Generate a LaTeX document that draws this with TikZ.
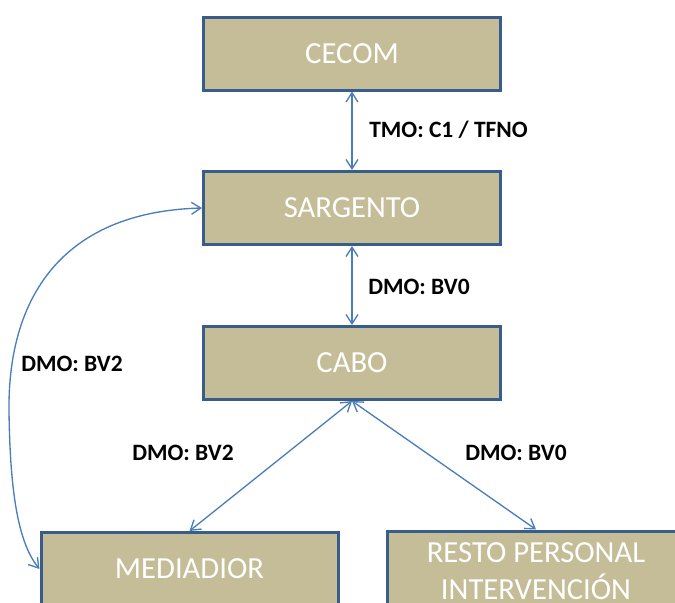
\documentclass[tikz,border=0pt]{standalone}
\usepackage{fontspec}
\setmainfont{Carlito}
\usetikzlibrary{arrows.meta}
\definecolor{boxfill}{HTML}{C4BD97}
\definecolor{boxline}{HTML}{385D8A}
\definecolor{linkblue}{HTML}{4A7EBB}
\begin{document}
\begin{tikzpicture}[x=0.75pt, y=-0.75pt,
    rank/.style={draw=boxline, line width=2.25pt, fill=boxfill, text=white,
        minimum width=222.75pt, minimum height=54.75pt, inner sep=0pt,
        align=center, font=\fontsize{23}{27.75}\selectfont},
    link/.style={draw=linkblue, line width=1pt,
        {Straight Barb[length=7pt, width=9pt]}-{Straight Barb[length=7pt, width=9pt]}},
    tag/.style={font=\fontsize{17.6}{20}\selectfont\bfseries, inner sep=0pt}]
\useasboundingbox (0,0) rectangle (675,603);

\node[rank] (cecom) at (352,53.5) {CECOM};
\node[rank] (sarg) at (352,208) {SARGENTO};
\node[rank] (cabo) at (352,363) {CABO};
\node[rank] (medi) at (189.5,569) {MEDIADIOR};
\node[rank, minimum height=60pt] (resto) at (536,571) {RESTO PERSONAL\\INTERVENCIÓN};

\draw[link] (cecom.south) -- (sarg.north);
\draw[link] (sarg.south) -- (cabo.north);
\draw[link] (cabo.south) -- (medi.north);
\draw[link] (cabo.south) -- (resto.north);
\draw[link] (sarg.west) .. controls (60,212) and (8,300) .. (9,410)
    .. controls (10,500) and (20,545) .. (medi.west);

% labels
\node[tag, anchor=west] (t1) at (369,130) {TMO: C1 / TFNO};
\node[tag, anchor=west] (t2) at (368,287) {DMO: BV0};
\node[tag, anchor=west] (t3) at (21,364) {DMO: BV2};
\node[tag] (t4) at (183,453) {DMO: BV2};
\node[tag] (t5) at (516,453) {DMO: BV0};

\end{tikzpicture}
\end{document}
